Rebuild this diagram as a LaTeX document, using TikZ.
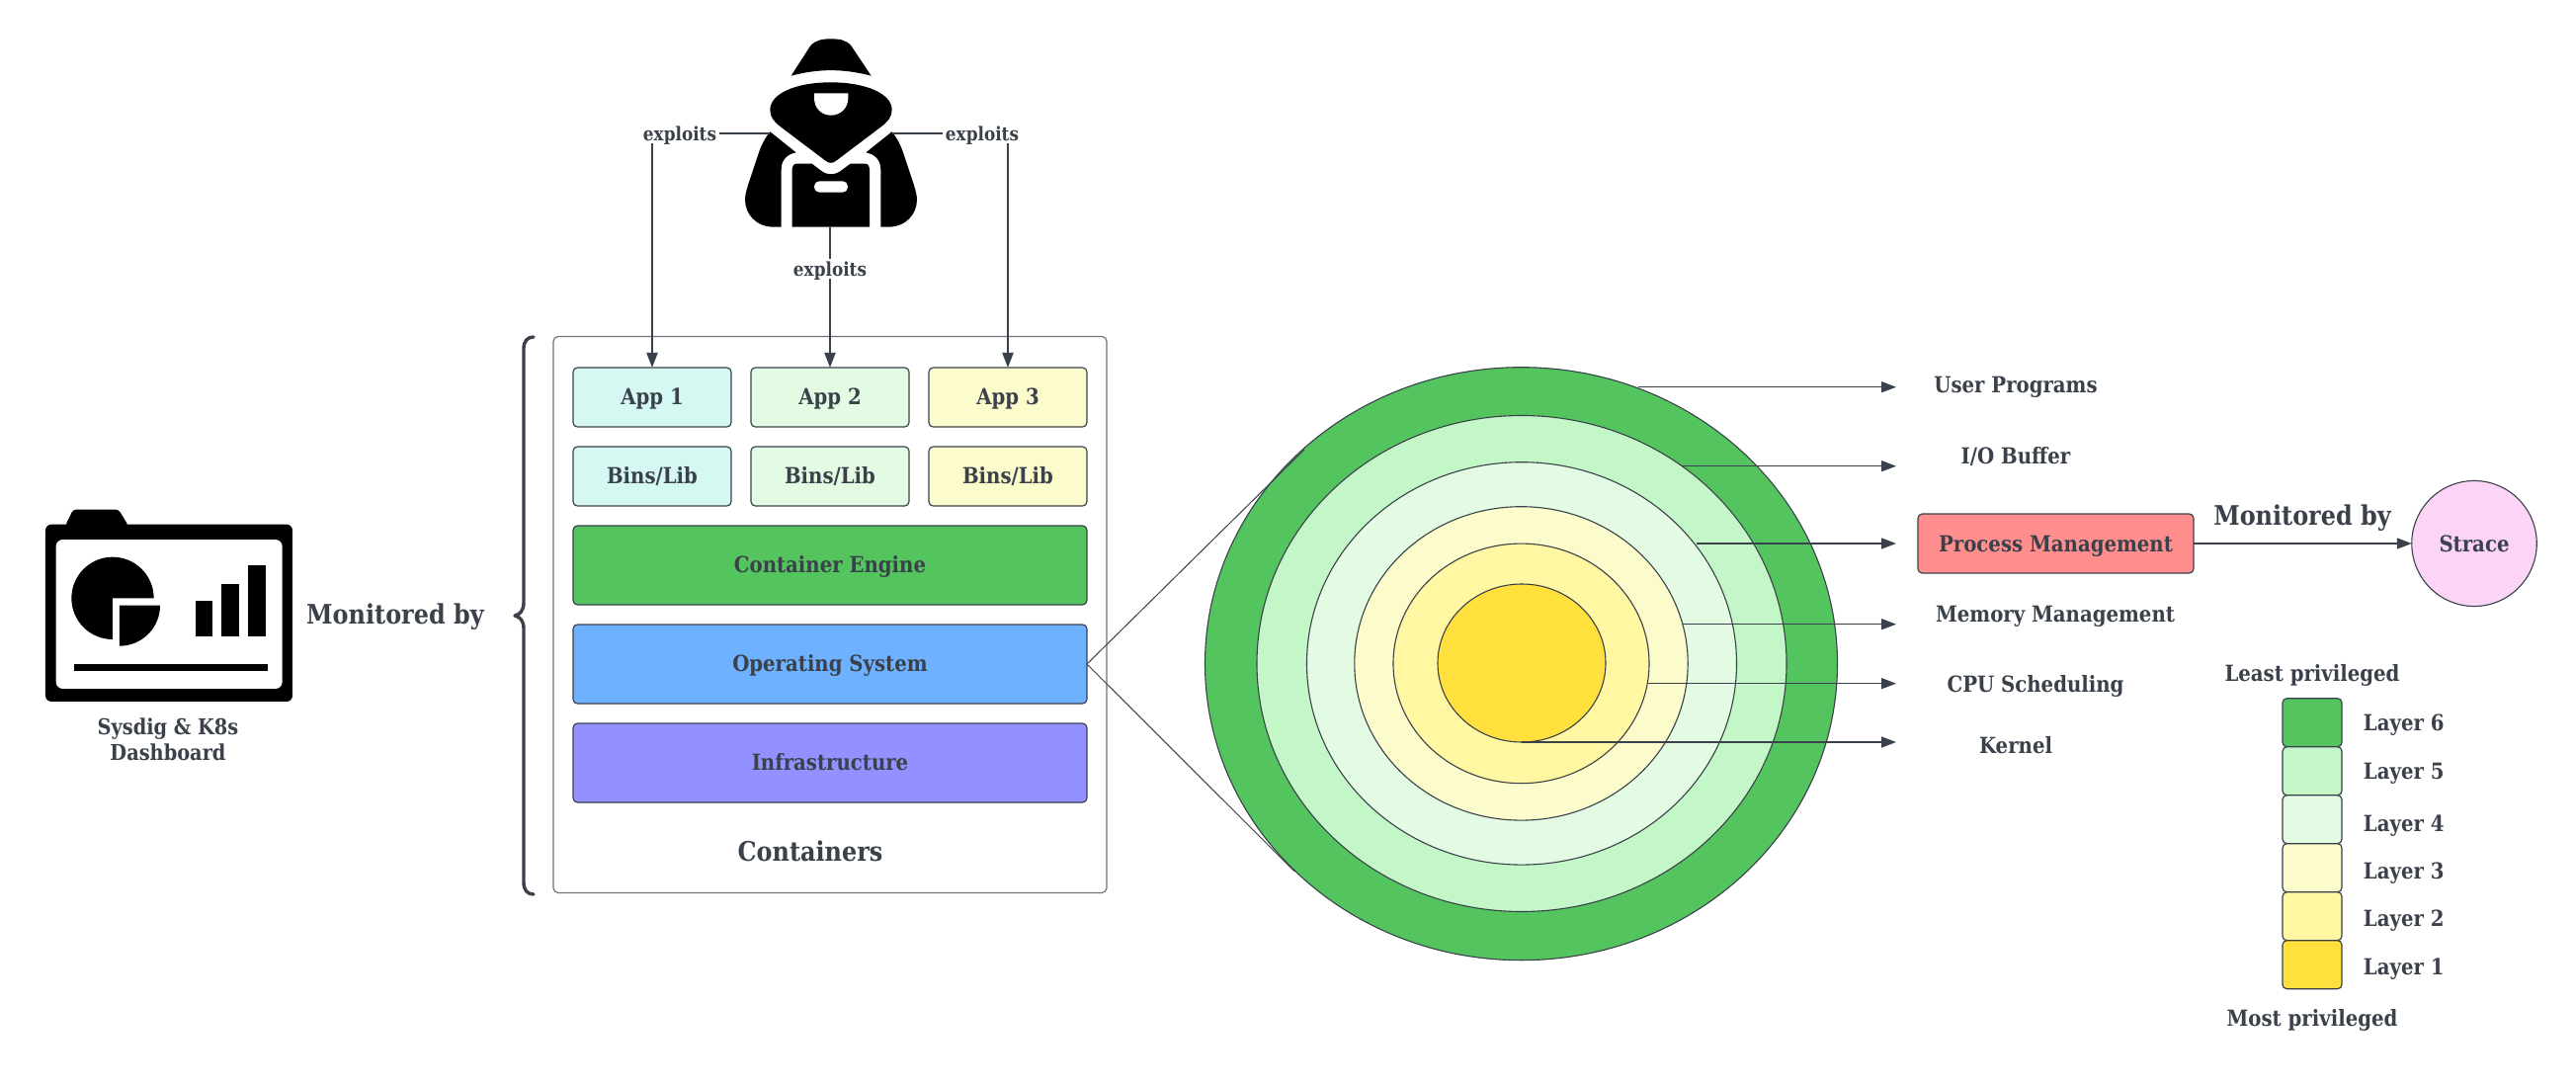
\documentclass[tikz,border=0pt]{standalone}
\usepackage{fontspec}
\newfontfamily\lblfont[FakeStretch=0.88]{DejaVu Serif}
\usetikzlibrary{arrows.meta,shapes.geometric}
\definecolor{ink}{HTML}{3A414A}
\definecolor{frame}{HTML}{6F757D}
\definecolor{cmint}{HTML}{D5F9F2}
\definecolor{cpale}{HTML}{E3FAE3}
\definecolor{ccream}{HTML}{FCFBCB}
\definecolor{cgreen}{HTML}{54C45E}
\definecolor{clime}{HTML}{C3F7C8}
\definecolor{cblue}{HTML}{6DB1FF}
\definecolor{cviolet}{HTML}{9391FF}
\definecolor{cred}{HTML}{FF8F8F}
\definecolor{cpink}{HTML}{FCD4F6}
\definecolor{cyel}{HTML}{FFF7A1}
\definecolor{cgold}{HTML}{FFE03D}
\tikzset{
  pxbox/.style={draw=ink,line width=0.6pt,rounded corners=2.2pt,inner sep=0pt,outer sep=0pt,text=ink},
  ring/.style={ellipse,draw=ink,line width=0.55pt,inner sep=0pt,outer sep=0pt},
  lbl/.style={inner sep=0pt,outer sep=0pt,text=ink,align=center},
  arrowline/.style={draw=ink,line width=0.7pt,-{Triangle[length=7.5pt,width=5.5pt]}},
  hackline/.style={draw=ink,line width=1pt,-{Triangle[length=7.5pt,width=5.5pt]}},
  thinline/.style={draw=ink,line width=0.5pt},
  capcentre/.style={text height={0.73*#1 pt},text depth=0pt},
}
\newcommand\fz[1]{\lblfont\bfseries\fontsize{#1}{13}\selectfont}
\newcommand\pboxd{0.6pt}
% name x1 y1 x2 y2 fill fontsize text
\newcommand\pbox[8]{\node[pxbox,fill=#6,minimum width={(#4-#2)*0.5pt},minimum height={(#5-#3)*0.5pt},font=\fz{#7},capcentre=#7,text depth=\pboxd] (#1) at ({(#2+#4)/2},{(#3+#5)/2}) {#8};}
\newcommand\lab[5]{\node[lbl,font=\fz{#4},capcentre=#4] (#1) at (#2,#3) {#5};}
\newcommand\rng[5]{\node[ring,fill=#2,minimum width={#3*1pt},minimum height={#4*1pt}] (#1) at #5 {};}
\begin{document}
\begin{tikzpicture}[x=0.5pt,y=-0.5pt]
\useasboundingbox (0,0) rectangle (2607,1101);
\fill[white] (0,0) rectangle (2607,1101);

% dashboard icon
\begin{scope}[shift={(0,480)},scale=1/3]
\fill[black,rounded corners=3pt] (138,152) rectangle (888,690);
\fill[black,rounded corners=1.5pt] (198,156) -- (222,107) -- (360,107) -- (390,156) -- cycle;
\fill[white,rounded corners=3.5pt] (170,198) rectangle (857,651);
\fill[black] (342,501) .. controls (273,501) and (217,445) .. (217,376) .. controls (217,307) and (273,251) .. (342,251) .. controls (411,251) and (467,307) .. (467,376) -- (342,376) -- cycle;
\fill[black] (486,398) .. controls (486,466) and (431,521) .. (363,521) -- (363,398) -- cycle;
\fill[black] (593,385) rectangle (645,493);
\fill[black] (672,333) rectangle (727,493);
\fill[black] (753,277) rectangle (807,493);
\fill[black] (224,575) rectangle (813,597);
\end{scope}
\node[lbl,font=\fz{11}] (dash) at (170,748) {Sysdig \& K8s\\Dashboard};
\lab{monA}{400}{622}{13.6}{Monitored by}

% brace
\draw[draw=ink,line width=1.7pt,line cap=round,line join=round] (540,341) .. controls (534,341) and (530,345) .. (530,353) -- (530,610) .. controls (530,618) and (526,622) .. (521,623) .. controls (526,624) and (530,628) .. (530,636) -- (530,893) .. controls (530,901) and (534,905) .. (540,905);

% containers
\node[pxbox,draw=frame,fill=white,minimum width={560*0.5pt},minimum height={563*0.5pt},rounded corners=2.5pt] (cont) at (840,622) {};
\pbox{appA}{580}{372}{740}{432}{cmint}{11.2}{App 1}
\pbox{appB}{760}{372}{920}{432}{cpale}{11.2}{App 2}
\pbox{appC}{940}{372}{1100}{432}{ccream}{11.2}{App 3}
\pbox{binA}{580}{452}{740}{512}{cmint}{11.2}{Bins/Lib}
\pbox{binB}{760}{452}{920}{512}{cpale}{11.2}{Bins/Lib}
\pbox{binC}{940}{452}{1100}{512}{ccream}{11.2}{Bins/Lib}
\pbox{eng}{580}{532}{1100}{612}{cgreen}{11.2}{Container Engine}
\pbox{os}{580}{632}{1100}{712}{cblue}{11.2}{Operating System}
\pbox{inf}{580}{732}{1100}{812}{cviolet}{11.2}{Infrastructure}
\lab{contl}{820}{862}{13.6}{Containers}

% hacker
\begin{scope}[shift={(620,0)},scale=1/3]
\fill[black] (542,230) -- (600,140) .. controls (617,120) and (640,118) .. (662,118) .. controls (685,118) and (710,120) .. (725,140) -- (785,230) .. controls (700,208) and (625,208) .. (542,230) -- cycle;
\fill[black] (662,250) .. controls (770,250) and (848,285) .. (848,333) .. controls (848,355) and (835,370) .. (815,385) -- (680,487) .. controls (668,497) and (656,497) .. (645,487) -- (510,385) .. controls (490,370) and (478,355) .. (478,333) .. controls (478,285) and (555,250) .. (662,250) -- cycle;
\fill[white] (612,283) -- (715,283) -- (715,298) .. controls (715,328) and (692,350) .. (663,350) .. controls (634,350) and (612,328) .. (612,298) -- cycle;
\fill[black] (478,400) -- (557,463) .. controls (530,468) and (512,485) .. (512,515) -- (512,689) -- (490,689) .. controls (435,689) and (402,650) .. (402,605) .. controls (402,590) and (410,565) .. (415,550) -- (445,460) .. controls (452,440) and (462,420) .. (478,400) -- cycle;
\fill[black] (848,400) -- (769,463) .. controls (796,468) and (814,485) .. (814,515) -- (814,689) -- (836,689) .. controls (891,689) and (924,650) .. (924,605) .. controls (924,590) and (916,565) .. (911,550) -- (881,460) .. controls (874,440) and (864,420) .. (848,400) -- cycle;
\fill[black] (560,497) -- (605,497) -- (630,516) .. controls (650,533) and (676,533) .. (696,516) -- (722,497) -- (765,497) .. controls (775,497) and (780,503) .. (780,512) -- (780,689) -- (545,689) -- (545,512) .. controls (545,503) and (550,497) .. (560,497) -- cycle;
\fill[white,rounded corners=2.6pt] (612,550) rectangle (714,584);
\coordinate (hackL) at (478,405);
\coordinate (hackR) at (848,405);
\coordinate (hackB) at (660,689);
\end{scope}
\draw[hackline] (hackL) -| (appA.north);
\draw[hackline] (hackR) -| (appC.north);
\draw[hackline] (hackB) -- (hackB |- appB.north);
\node[lbl,fill=white,font=\fz{9.6},capcentre=9.6,inner sep=1.5pt] (exA) at (688,135) {exploits};
\node[lbl,fill=white,font=\fz{9.6},capcentre=9.6,inner sep=1.5pt] (exB) at (840,272.4) {exploits};
\node[lbl,fill=white,font=\fz{9.6},capcentre=9.6,inner sep=1.5pt] (exC) at (994,135) {exploits};

% rings
\rng{rF}{cgreen}{320}{300}{(1539.5,671.7)}
\rng{rE}{clime}{268}{251}{(1540,671.5)}
\rng{rD}{cpale}{217.5}{203.7}{(1540,671.4)}
\rng{rC}{ccream}{168.7}{158.7}{(1539.5,671.4)}
\rng{rB}{cyel}{129.5}{121.3}{(1539.5,671.4)}
\rng{rA}{cgold}{85}{80}{(1540,671)}
\coordinate (tanU) at (1320,455);
\coordinate (tanL) at (1310,881.7);
\draw[thinline] (os.east) -- (tanU);
\draw[thinline] (os.east) -- (tanL);

\coordinate (tF) at (1919,391.7);
\coordinate (tE) at (1919,471.7);
\coordinate (tD) at (1919,550);
\coordinate (tC) at (1919,631.7);
\coordinate (tB) at (1919,691.7);
\coordinate (tA) at (1919,751);
\draw[arrowline] (rF.67.6 |- tF) -- (tF);
\draw[arrowline] (rE.51 |- tE) -- (tE);
\draw[arrowline] (rD.34.8 |- tD) -- (tD);
\draw[arrowline] (rC.13.74 |- tC) -- (tC);
\draw[arrowline] (rB.-8.9 |- tB) -- (tB);
\draw[arrowline] (rA.south) -- (rA.south -| tA);

\lab{lF}{2040}{389.5}{11.2}{User Programs}
\lab{lE}{2040}{461}{11.2}{I/O Buffer}
\renewcommand\pboxd{0pt}
\pbox{proc}{1941}{520}{2220}{580}{cred}{11.2}{Process Management}
\lab{lC}{2080}{621.7}{11.2}{Memory Management}
\lab{lB}{2060}{692}{11.2}{CPU Scheduling}
\lab{lA}{2040}{754}{11.2}{Kernel}
\lab{monB}{2330}{521.7}{13.6}{Monitored by}
\node[ring,fill=cpink,minimum width={126.5*0.5pt},minimum height={127*0.5pt},font=\fz{11.2},capcentre=11.2,text=ink] (strace) at (2504,550) {Strace};
\draw[arrowline] (proc.east) -- (strace.west);

% legend
\lab{least}{2340}{681}{11.2}{Least privileged}
\pbox{sF}{2310}{706.7}{2370}{755.7}{cgreen}{11.2}{}
\pbox{sE}{2310}{755.7}{2370}{804.7}{clime}{11.2}{}
\pbox{sD}{2310}{804.7}{2370}{853.7}{cpale}{11.2}{}
\pbox{sC}{2310}{853.7}{2370}{902.7}{ccream}{11.2}{}
\pbox{sB}{2310}{902.7}{2370}{951.7}{cyel}{11.2}{}
\pbox{sA}{2310}{951.7}{2370}{1000.7}{cgold}{11.2}{}
\lab{nF}{2432.7}{731}{11.2}{Layer 6}
\lab{nE}{2432.7}{780}{11.2}{Layer 5}
\lab{nD}{2432.7}{833}{11.2}{Layer 4}
\lab{nC}{2432.7}{881}{11.2}{Layer 3}
\lab{nB}{2432.7}{929.5}{11.2}{Layer 2}
\lab{nA}{2432.7}{978}{11.2}{Layer 1}
\lab{most}{2340}{1030.5}{11.2}{Most privileged}
\end{tikzpicture}
\end{document}
